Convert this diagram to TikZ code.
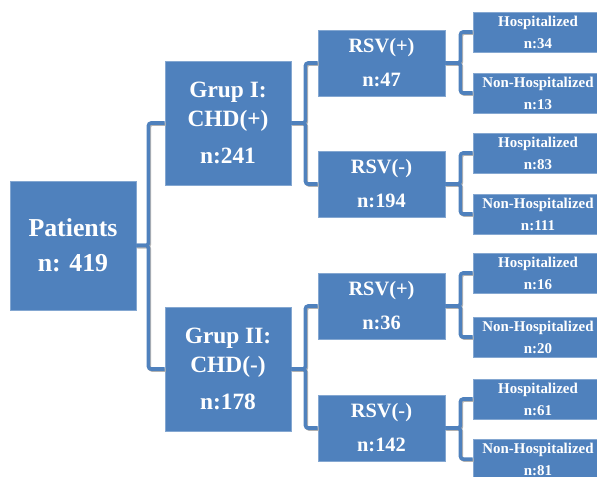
\documentclass[tikz,border=0pt]{standalone}
\usepackage{fontspec}
\setmainfont{Liberation Serif}
\definecolor{bleu}{HTML}{4F81BD}

\begin{document}
\begin{tikzpicture}[x=0.02cm, y=-0.02cm]
\tikzset{boite/.style={fill=bleu, draw=bleu!70!white, line width=0.5pt, text=white, font=\bfseries, align=center, inner sep=0pt}}
\tikzset{grande/.style={boite, minimum width=2.52cm, minimum height=2.58cm, font=\bfseries\fontsize{14.7}{20}\selectfont}}
\tikzset{groupe/.style={boite, minimum width=2.52cm, minimum height=2.48cm, font=\bfseries\fontsize{13.3}{16.5}\selectfont}}
\tikzset{rsv/.style={boite, minimum width=2.54cm, minimum height=1.32cm, font=\bfseries\fontsize{11.6}{19.4}\selectfont}}
\tikzset{feuille/.style={boite, minimum width=2.6cm, minimum height=0.8cm, font=\bfseries\fontsize{8.5}{12.5}\selectfont}}
\tikzset{lien/.style={draw=bleu, line width=2pt, rounded corners=1.5pt, preaction={draw=black!30, line width=2pt, transform canvas={shift={(0.6pt,-0.6pt)}}}}}
\useasboundingbox (0,0) rectangle (597,476);
\clip (0,0) rectangle (597,476);
\node[grande] (P) at (73,245.5) {Patients\\n: 419};
\node[groupe] (G1) at (228,123) {Grup I:\\CHD(+)\\[5pt]n:241};
\node[groupe] (G2) at (228,369) {Grup II:\\CHD(-)\\[5pt]n:178};
\node[rsv] (R1) at (381.5,63) {RSV(+)\\n:47};
\node[rsv] (R2) at (381.5,184) {RSV(-)\\n:194};
\node[rsv] (R3) at (381.5,306) {RSV(+)\\n:36};
\node[rsv] (R4) at (381.5,428) {RSV(-)\\n:142};
\node[feuille] (F1) at (538,32) {Hospitalized\\n:34};
\node[feuille] (F2) at (538,93) {Non-Hospitalized\\n:13};
\node[feuille] (F3) at (538,153) {Hospitalized\\n:83};
\node[feuille] (F4) at (538,214) {Non-Hospitalized\\n:111};
\node[feuille] (F5) at (538,273) {Hospitalized\\n:16};
\node[feuille] (F6) at (538,337) {Non-Hospitalized\\n:20};
\node[feuille] (F7) at (538,399) {Hospitalized\\n:61};
\node[feuille] (F8) at (538,459) {Non-Hospitalized\\n:81};
\draw[lien] (P.east) -- ++(12,0) |- (G1.west);
\draw[lien] (P.east) -- ++(12,0) |- (G2.west);
\draw[lien] (G1.east) -- ++(14,0) |- (R1.west);
\draw[lien] (G1.east) -- ++(14,0) |- (R2.west);
\draw[lien] (G2.east) -- ++(14,0) |- (R3.west);
\draw[lien] (G2.east) -- ++(14,0) |- (R4.west);
\draw[lien] (R1.east) -- ++(15,0) |- (F1.west);
\draw[lien] (R1.east) -- ++(15,0) |- (F2.west);
\draw[lien] (R2.east) -- ++(15,0) |- (F3.west);
\draw[lien] (R2.east) -- ++(15,0) |- (F4.west);
\draw[lien] (R3.east) -- ++(15,0) |- (F5.west);
\draw[lien] (R3.east) -- ++(15,0) |- (F6.west);
\draw[lien] (R4.east) -- ++(15,0) |- (F7.west);
\draw[lien] (R4.east) -- ++(15,0) |- (F8.west);
\end{tikzpicture}
\end{document}
